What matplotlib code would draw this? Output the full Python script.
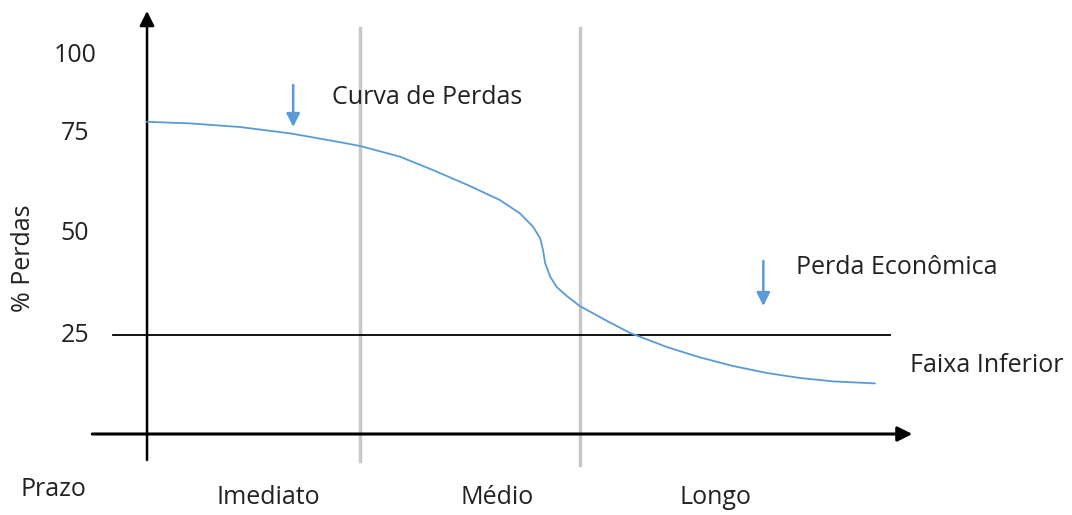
import matplotlib
matplotlib.use("Agg")
import matplotlib.pyplot as plt

# curve (x = time units, y = % perdas)
curve_x = [0.0, 0.60, 1.29, 1.99, 2.68, 2.96, 3.51, 3.97, 4.44, 4.90, 5.18,
           5.36, 5.46, 5.50, 5.53, 5.60, 5.69, 5.83, 6.01, 6.39, 6.71, 7.22,
           7.68, 8.14, 8.61, 9.07, 9.53, 10.11]
curve_y = [78.3, 77.9, 77.0, 75.4, 73.2, 72.25, 69.6, 66.25, 62.6, 58.75, 55.4,
           52.1, 49.2, 46.25, 42.9, 39.6, 37.0, 34.75, 32.25, 28.5, 25.5, 22.0,
           19.4, 17.25, 15.5, 14.25, 13.4, 12.9]

y_ticks = ["100", "75", "50", "25"]
y_tick_pos = [95, 75.5, 50.5, 25]
limite_inferior = 25
divisoes = [2.96, 6.01]
prazos = ["Imediato", "Médio", "Longo"]
prazo_x = [0.97, 4.35, 7.4]

blue = '#5b9bd5'
font = 'Open Sans'
fs = 18

fig = plt.figure(figsize=(10.72, 5.15), dpi=100)
ax = fig.add_axes([0, 0, 1, 1])
ax.set_xlim(-2.042, 12.847)
ax.set_ylim(-20, 108.75)
ax.axis('off')

# vertical division lines
ax.plot([divisoes[0]] * 2, [101.75, -6.5], color='#c8c8c8', lw=2.5, zorder=1)
ax.plot([divisoes[1]] * 2, [101.75, -7.5], color='#c8c8c8', lw=2.5, zorder=1)

# lower band line
ax.plot([-0.47, 10.32], [limite_inferior] * 2, color='black', lw=1.3, zorder=2)

# axes arrows
ax.annotate('', xy=(0, 106), xytext=(0, -6.25),
            arrowprops=dict(arrowstyle='-|>', color='black', lw=1.8,
                            mutation_scale=22, shrinkA=0, shrinkB=0))
ax.annotate('', xy=(10.63, 0.25), xytext=(-0.76, 0.25),
            arrowprops=dict(arrowstyle='-|>', color='black', lw=2.2,
                            mutation_scale=22, shrinkA=0, shrinkB=0))

# loss curve
ax.plot(curve_x, curve_y, color=blue, lw=1.3, zorder=3,
        solid_joinstyle='round', solid_capstyle='round')

# small down arrows
ax.annotate('', xy=(2.03, 77), xytext=(2.03, 87.5),
            arrowprops=dict(arrowstyle='-|>', color=blue, lw=1.8,
                            mutation_scale=20, shrinkA=0, shrinkB=0))
ax.annotate('', xy=(8.56, 32.25), xytext=(8.56, 43.5),
            arrowprops=dict(arrowstyle='-|>', color=blue, lw=1.8,
                            mutation_scale=20, shrinkA=0, shrinkB=0))

txt = dict(fontfamily=font, fontsize=fs, color='#222222', va='center')

for lab, yp in zip(y_ticks, y_tick_pos):
    ax.text(-1.0, yp, lab, ha='center', **txt)

ax.text(-1.72, 44.25, '% Perdas', rotation=90, ha='center', **txt)
ax.text(2.57, 84.5, 'Curva de Perdas', ha='left', **txt)
ax.text(9.01, 41.75, 'Perda Econômica', ha='left', **txt)
ax.text(10.6, 17.25, 'Faixa Inferior', ha='left', **txt)
ax.text(-1.76, -13.75, 'Prazo', ha='left', **txt)

for lab, xp in zip(prazos, prazo_x):
    ax.text(xp, -15.75, lab, ha='left', **txt)

fig.savefig('out.png', dpi=100, facecolor='white')
